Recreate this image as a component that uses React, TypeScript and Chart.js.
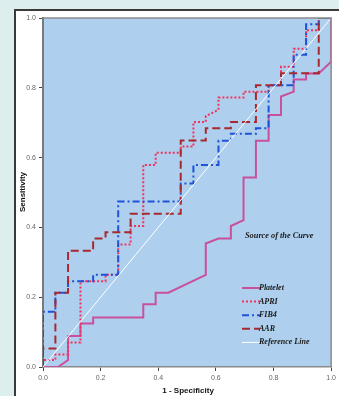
import { useEffect, useRef } from "react";
import { Chart, registerables } from "chart.js";

Chart.register(...registerables);

// ---- data ----
const tickValues = [0, 0.2, 0.4, 0.6, 0.8, 1.0];
const seriesLabels = ["Platelet", "APRI", "FIB4", "AAR", "Reference Line"];
const legendTitle = "Source of the Curve";
const xTitle = "1 - Specificity";
const yTitle = "Sensitivity";

const plateletX = [0, 0.052, 0.087, 0.087, 0.130, 0.130, 0.174, 0.174, 0.348, 0.348, 0.391, 0.391, 0.435, 0.565, 0.565, 0.609, 0.652, 0.652, 0.696, 0.696, 0.739, 0.739, 0.783, 0.783, 0.826, 0.826, 0.870, 0.870, 0.913, 0.913, 0.957, 1.0, 1.0];
const plateletY = [0, 0, 0.020, 0.089, 0.089, 0.125, 0.125, 0.142, 0.142, 0.180, 0.180, 0.213, 0.213, 0.264, 0.354, 0.368, 0.368, 0.404, 0.421, 0.543, 0.543, 0.648, 0.648, 0.722, 0.722, 0.775, 0.789, 0.824, 0.824, 0.841, 0.841, 0.875, 1.0];

const apriX = [0, 0, 0.043, 0.043, 0.087, 0.087, 0.130, 0.130, 0.217, 0.217, 0.261, 0.261, 0.304, 0.304, 0.348, 0.348, 0.391, 0.391, 0.478, 0.478, 0.522, 0.522, 0.565, 0.565, 0.609, 0.609, 0.696, 0.696, 0.783, 0.783, 0.826, 0.826, 0.870, 0.870, 0.913, 0.913, 0.957, 0.957, 1.0];
const apriY = [0, 0.020, 0.020, 0.036, 0.036, 0.070, 0.070, 0.246, 0.246, 0.264, 0.264, 0.351, 0.351, 0.404, 0.404, 0.579, 0.579, 0.614, 0.614, 0.632, 0.632, 0.702, 0.702, 0.719, 0.737, 0.772, 0.772, 0.789, 0.789, 0.807, 0.807, 0.860, 0.860, 0.912, 0.912, 0.965, 0.965, 1.0, 1.0];

const fib4X = [0, 0, 0.043, 0.043, 0.087, 0.087, 0.174, 0.174, 0.261, 0.261, 0.478, 0.478, 0.522, 0.522, 0.609, 0.609, 0.652, 0.652, 0.739, 0.739, 0.783, 0.783, 0.870, 0.870, 0.913, 0.913, 0.957, 0.957, 1.0];
const fib4Y = [0, 0.158, 0.158, 0.213, 0.213, 0.246, 0.246, 0.264, 0.264, 0.474, 0.474, 0.526, 0.526, 0.579, 0.579, 0.648, 0.648, 0.668, 0.668, 0.684, 0.684, 0.807, 0.807, 0.895, 0.895, 0.982, 0.982, 1.0, 1.0];

const aarX = [0, 0, 0.043, 0.043, 0.087, 0.087, 0.174, 0.174, 0.217, 0.217, 0.304, 0.304, 0.478, 0.478, 0.565, 0.565, 0.652, 0.652, 0.739, 0.739, 0.826, 0.826, 0.957, 0.957, 1.0];
const aarY = [0, 0.053, 0.053, 0.213, 0.213, 0.333, 0.333, 0.368, 0.368, 0.386, 0.386, 0.439, 0.439, 0.649, 0.649, 0.684, 0.684, 0.702, 0.702, 0.807, 0.807, 0.842, 0.842, 1.0, 1.0];

const refX = [0, 1];
const refY = [0, 1];

const toPoints = (xs: number[], ys: number[]) => xs.map((x, i) => ({ x, y: ys[i] }));

const frameBg = {
  id: "frameBg",
  beforeDraw(chart: any) {
    const { ctx, chartArea, width, height } = chart;
    ctx.save();
    ctx.fillStyle = "#DCEFEE";
    ctx.fillRect(0, 0, width, height);
    ctx.fillStyle = "#FFFFFF";
    ctx.fillRect(15, 10, width - 15, height - 10);
    ctx.strokeStyle = "#3a3a3a";
    ctx.lineWidth = 2;
    ctx.beginPath();
    ctx.moveTo(15, height);
    ctx.lineTo(15, 10);
    ctx.lineTo(width, 10);
    ctx.stroke();
    ctx.fillStyle = "#AED0EE";
    ctx.fillRect(chartArea.left, chartArea.top, chartArea.right - chartArea.left, chartArea.bottom - chartArea.top);
    ctx.restore();
  },
  afterDraw(chart: any) {
    const { ctx, chartArea } = chart;
    ctx.save();
    // plot frame top/right
    ctx.strokeStyle = "#8a8a8a";
    ctx.lineWidth = 1.5;
    ctx.beginPath();
    ctx.moveTo(chartArea.left, chartArea.top);
    ctx.lineTo(chartArea.right, chartArea.top);
    ctx.lineTo(chartArea.right, chartArea.bottom);
    ctx.stroke();

    // legend
    const lx = chartArea.left + 199;
    const ly0 = chartArea.top + 270;
    const step = 13.6;
    ctx.fillStyle = "#1a1a1a";
    ctx.textBaseline = "middle";
    ctx.textAlign = "left";
    ctx.font = "italic bold 8.3px 'Liberation Serif'";
    ctx.fillText(legendTitle, chartArea.left + 202, chartArea.top + 218);
    seriesLabels.forEach((label, i) => {
      const ds = chart.data.datasets.find((d: any) => d.label === label);
      const y = ly0 + i * step;
      ctx.strokeStyle = ds.borderColor;
      ctx.lineWidth = ds.borderWidth;
      ctx.setLineDash(ds.borderDash || []);
      ctx.beginPath();
      ctx.moveTo(lx, y);
      ctx.lineTo(lx + 18, y);
      ctx.stroke();
      ctx.setLineDash([]);
      ctx.font = "italic bold 8px 'Liberation Serif'";
      ctx.fillText(label, lx + 17, y);
    });

    // axis titles
    ctx.fillStyle = "#111";
    ctx.font = "bold 8px 'Liberation Sans'";
    ctx.textAlign = "center";
    ctx.fillText(xTitle, (chartArea.left + chartArea.right) / 2 + 1, 391);
    ctx.translate(23, 192);
    ctx.rotate(-Math.PI / 2);
    ctx.fillText(yTitle, 0, 0);
    ctx.restore();
  },
};

export default function App() {
  const ref = useRef<HTMLCanvasElement>(null);
  useEffect(() => {
    if (!ref.current) return;
    const tickFont = { family: "'Liberation Sans'", size: 7 };
    const chart = new Chart(ref.current, {
      type: "scatter",
      data: {
        datasets: [
          { label: seriesLabels[0], data: toPoints(plateletX, plateletY), borderColor: "#C9509A", borderWidth: 2, showLine: true, pointRadius: 0, order: 4 },
          { label: seriesLabels[1], data: toPoints(apriX, apriY), borderColor: "#F2325C", borderWidth: 2, borderDash: [2, 2], showLine: true, pointRadius: 0, order: 3 },
          { label: seriesLabels[2], data: toPoints(fib4X, fib4Y), borderColor: "#1F52D8", borderWidth: 2, borderDash: [7, 3, 2, 3], showLine: true, pointRadius: 0, order: 2 },
          { label: seriesLabels[3], data: toPoints(aarX, aarY), borderColor: "#A8282F", borderWidth: 2, borderDash: [8, 4], showLine: true, pointRadius: 0, order: 1 },
          { label: seriesLabels[4], data: toPoints(refX, refY), borderColor: "#FFFFFF", borderWidth: 1, showLine: true, pointRadius: 0, order: 0 },
        ] as any,
      },
      options: {
        responsive: false,
        animation: false,
        layout: { padding: { left: 0, top: 18, right: 5, bottom: 0 } },
        plugins: { legend: { display: false }, tooltip: { enabled: false } },
        scales: {
          x: {
            type: "linear",
            min: 0,
            max: 1,
            afterBuildTicks: (s: any) => { s.ticks = tickValues.map((v) => ({ value: v })); },
            afterFit: (s: any) => { s.height = 29; },
            ticks: { font: tickFont, color: "#666", padding: 3, callback: (v: any) => Number(v).toFixed(1) },
            grid: { drawOnChartArea: false, tickLength: 4, color: "#444" },
            border: { color: "#8a8a8a", width: 1.5 },
          },
          y: {
            type: "linear",
            min: 0,
            max: 1,
            afterBuildTicks: (s: any) => { s.ticks = tickValues.map((v) => ({ value: v })); },
            afterFit: (s: any) => { s.width = 43; },
            ticks: { font: tickFont, color: "#666", padding: 3, callback: (v: any) => Number(v).toFixed(1) },
            grid: { drawOnChartArea: false, tickLength: 4, color: "#444" },
            border: { color: "#7a7a7a", width: 2 },
          },
        },
      },
      plugins: [frameBg],
    });
    return () => chart.destroy();
  }, []);
  return (
    <canvas
      ref={ref}
      width={339}
      height={396}
      style={{ position: "fixed", left: 0, top: 0, width: 339, height: 396, display: "block" }}
    />
  );
}
